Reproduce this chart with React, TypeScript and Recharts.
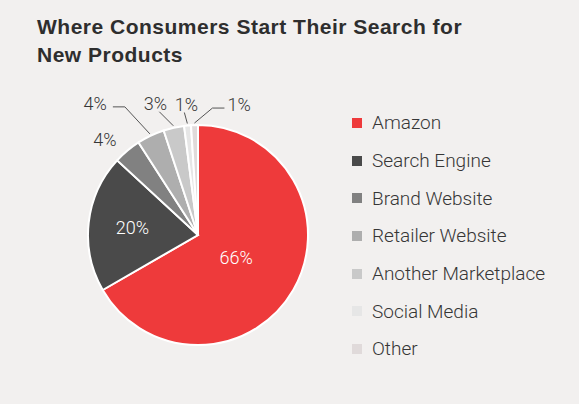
import { PieChart, Pie, Cell, Legend } from 'recharts';

const categories = ['Amazon', 'Search Engine', 'Brand Website', 'Retailer Website', 'Another Marketplace', 'Social Media', 'Other'];
const shares = [66, 20, 4, 4, 3, 1, 1];
const colors = ['#ee3a3b', '#4a4a4a', '#818181', '#aeaeae', '#c9c9c9', '#e6e6e6', '#e0dada'];

const data = categories.map((name, i) => ({ name, value: shares[i], color: colors[i] }));

const RAD = Math.PI / 180;
const TEXT = '#363636';
const FONT = 'Roboto, sans-serif';

// label placement per slice: inside labels use a radius fraction, outside ones hang off the rim
const labelStyle: Record<string, any> = {
  'Amazon': { inside: 0.4 },
  'Search Engine': { inside: 0.6 },
  'Brand Website': { pts: [], text: [-21, -3], anchor: 'middle' },
  'Retailer Website': { pts: [[-25, -27], [-37, -27]], text: [-6, 3], anchor: 'end' },
  'Another Marketplace': { pts: [[-14, -14]], text: [-4, -2], anchor: 'middle' },
  'Social Media': { pts: [[-3, -11]], text: [2, -2], anchor: 'middle' },
  'Other': { pts: [[18, -15], [30, -15]], text: [3, 3], anchor: 'start' },
};

function renderLabel(props: any) {
  const { cx, cy, midAngle, outerRadius, name, value } = props;
  const s = labelStyle[name];
  const cos = Math.cos(-midAngle * RAD);
  const sin = Math.sin(-midAngle * RAD);
  if (s.inside) {
    const r = outerRadius * s.inside;
    return (
      <text x={cx + r * cos} y={cy + r * sin} fill="#fff" fontSize={18} fontWeight={300} fontFamily={FONT}
        textAnchor="middle" dominantBaseline="central">{value}%</text>
    );
  }
  const ax = cx + (outerRadius + 2) * cos;
  const ay = cy + (outerRadius + 2) * sin;
  const pts = [[ax, ay], ...s.pts.map((p: number[]) => [ax + p[0], ay + p[1]])];
  const last = pts[pts.length - 1];
  return (
    <g>
      {pts.length > 1 && (
        <polyline points={pts.map((p) => p.join(',')).join(' ')} fill="none" stroke="#555" strokeWidth={1} />
      )}
      <text x={last[0] + s.text[0]} y={last[1] + s.text[1]} fill={TEXT} fontSize={18} fontWeight={300}
        fontFamily={FONT} textAnchor={s.anchor}>{value}%</text>
    </g>
  );
}

function LegendList() {
  return (
    <div style={{ fontFamily: FONT }}>
      {data.map((d) => (
        <div key={d.name} style={{ display: 'flex', alignItems: 'center', height: 37.7 }}>
          <div style={{ width: 10, height: 10, background: d.color, marginRight: 10 }} />
          <span style={{ fontSize: 19, fontWeight: 300, color: TEXT }}>{d.name}</span>
        </div>
      ))}
    </div>
  );
}

export default function App() {
  return (
    <div style={{ position: 'absolute', left: 0, top: 0, width: 579, height: 404, background: '#f2f0ef', overflow: 'hidden' }}>
      <div style={{ position: 'absolute', left: 37, top: 13, fontFamily: '"Liberation Sans", Arial, sans-serif', fontWeight: 700, fontSize: 21, letterSpacing: 0.5, lineHeight: '28px', color: '#2e2e2e' }}>
        Where Consumers Start Their Search for<br />New Products
      </div>
      <div style={{ position: 'absolute', left: 0, top: 0 }}>
        <PieChart width={579} height={404} margin={{ top: 0, right: 0, bottom: 0, left: 0 }}>
          <Pie
            data={data}
            dataKey="value"
            nameKey="name"
            cx={198}
            cy={235}
            outerRadius={110}
            startAngle={90}
            endAngle={-270}
            stroke="#fff"
            strokeWidth={2}
            label={renderLabel}
            labelLine={false}
            isAnimationActive={false}
          >
            {data.map((d) => (
              <Cell key={d.name} fill={d.color} />
            ))}
          </Pie>
          <Legend content={<LegendList />} layout="vertical" wrapperStyle={{ position: 'absolute', left: 352, top: 104, width: 220 }} />
        </PieChart>
      </div>
    </div>
  );
}
